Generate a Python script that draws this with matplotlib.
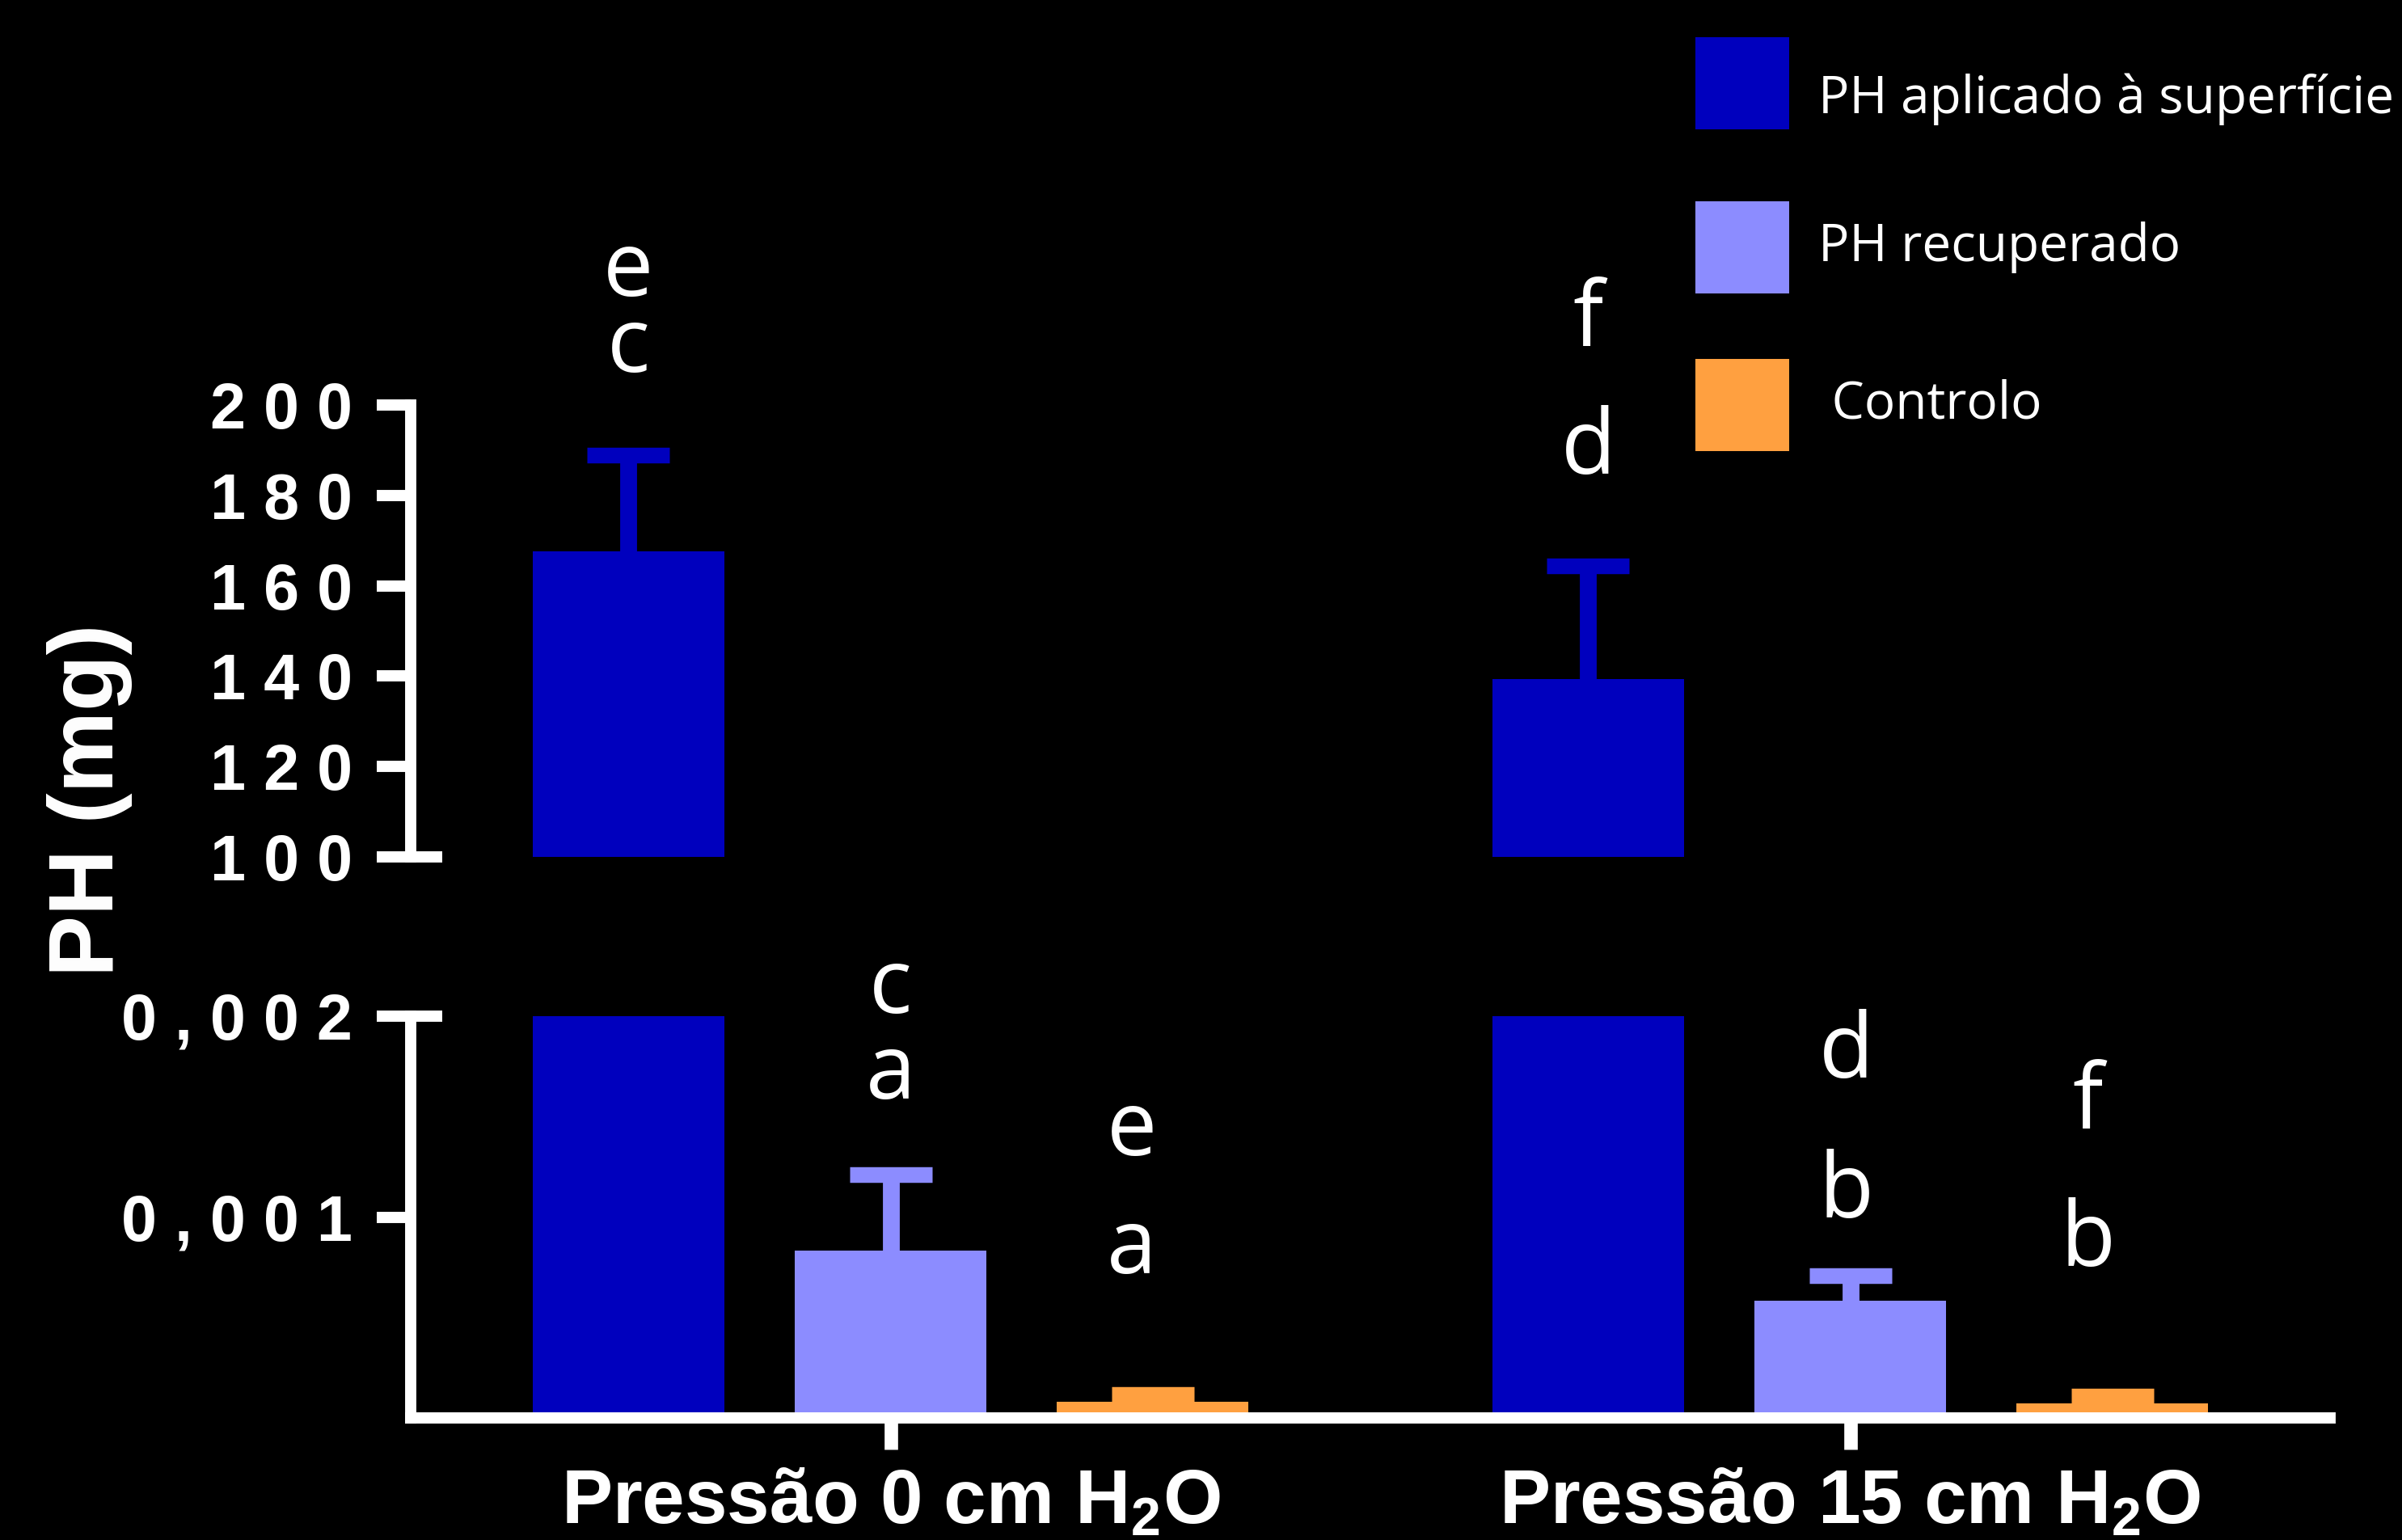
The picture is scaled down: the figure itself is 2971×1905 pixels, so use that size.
#!/usr/bin/env python3
"""PH (mg) bar chart with broken y-axis: applied vs recovered vs control."""

import matplotlib

matplotlib.use("Agg")
import matplotlib.pyplot as plt
import numpy as np
from matplotlib.patches import Rectangle
from matplotlib.ticker import FixedLocator
from matplotlib.transforms import blended_transform_factory, offset_copy

plt.rcParams["mathtext.fontset"] = "custom"
plt.rcParams["mathtext.rm"] = "Liberation Sans:bold"
plt.rcParams["mathtext.it"] = "Liberation Sans:bold"
plt.rcParams["mathtext.bf"] = "Liberation Sans:bold"

# ---- data ----
groups = ["Pressão 0 cm H$_2$O", "Pressão 15 cm H$_2$O"]
series = ["PH aplicado à superfície", "PH recuperado", " Controlo"]

aplicado = [167.6, 139.4]
aplicado_err = [21.3, 25.0]
recuperado = [0.000833, 0.000583]
recuperado_err = [0.000377, 0.000125]
controlo = [0.000080, 0.000073]
controlo_err = [0.000037, 0.000036]

upper_ticks = [100, 120, 140, 160, 180, 200]
lower_ticks = [0.001, 0.002]

# significance letters per bar: (upper letter, lower letter)
letters = [
    [("e", "c"), ("c", "a"), ("e", "a")],
    [("f", "d"), ("d", "b"), ("f", "b")],
]

# ---- style / layout ----
colors = ["#0000BE", "#8C8CFF", "#FFA040"]
W, H = 2971, 1905
# letter baselines in figure pixels from top, and small horizontal nudges (px)
letter_baselines = [
    [(366, 460), (1253, 1359), (1429, 1575)],
    [(428, 586), (1333, 1506), (1396, 1566)],
]
letter_nudge = [[0, 0, -26], [0, -5, -30]]
offsets = [-0.273, 0.0, 0.273]
bar_width = 0.2
LW = 10

fig = plt.figure(figsize=(W / 100, H / 100), dpi=100, facecolor="black")
left, right = 508 / W, 2882 / W
ax_up = fig.add_axes([left, 1 - 1060 / H, right - left, (1060 - 501) / H])
ax_low = fig.add_axes([left, 1 - 1754 / H, right - left, (1754 - 1257) / H])

x = np.arange(len(groups))
values = [aplicado, recuperado, controlo]
errors = [aplicado_err, recuperado_err, controlo_err]

for ax in (ax_up, ax_low):
    ax.set_facecolor("black")
    for i, (vals, errs) in enumerate(zip(values, errors)):
        ax.bar(x + offsets[i], vals, bar_width, color=colors[i], zorder=2)
        eb = ax.errorbar(
            x + offsets[i], vals, yerr=[np.zeros(len(errs)), errs], fmt="none",
            ecolor=colors[i], elinewidth=15, capsize=37, capthick=14, zorder=3,
        )
        eb.lines[1][0].set_visible(False)
    ax.set_xlim(-0.5, 1.5)
    for side in ("top", "right"):
        ax.spines[side].set_visible(False)
    ax.spines["left"].set_color("white")
    ax.spines["left"].set_linewidth(LW)

ax_up.set_ylim(100, 200)
ax_low.set_ylim(0, 0.002)

ax_up.spines["bottom"].set_visible(False)
ax_up.set_xticks([])
ax_low.spines["bottom"].set_color("white")
ax_low.spines["bottom"].set_linewidth(LW)

tick_font = dict(family=["Liberation Sans", "DejaVu Sans"], weight="bold", size=57)

ax_up.set_yticks(upper_ticks)
ax_up.set_yticklabels([" ".join(str(v)) for v in upper_ticks], color="white", **tick_font)
ax_low.set_yticks(lower_ticks)
ax_low.set_yticklabels([" ".join(f"{v:.3f}".replace(".", ",")) for v in lower_ticks], color="white", **tick_font)

# break marks: inward stubs at the cut ends
ax_up.yaxis.remove_overlapping_locs = False
ax_low.yaxis.remove_overlapping_locs = False
ax_up.yaxis.set_minor_locator(FixedLocator([upper_ticks[0]]))
ax_low.yaxis.set_minor_locator(FixedLocator([lower_ticks[-1]]))
for ax in (ax_up, ax_low):
    ax.tick_params(axis="y", which="major", direction="out", length=30, width=LW, pad=22, color="white")
    ax.tick_params(axis="y", which="minor", direction="in", length=28, width=LW, color="white")

ax_low.set_xticks(x)
ax_low.set_xticklabels(groups, color="white", family=["Liberation Sans", "DejaVu Sans"], weight="bold", size=68)
ax_low.tick_params(axis="x", direction="out", length=28, width=12, pad=16, color="white")

# y label
fig.text(140 / W, 1 - 990 / H, "PH (mg)", rotation=90, rotation_mode="anchor",
         ha="center", va="baseline", color="white",
         family=["Liberation Sans", "DejaVu Sans"], weight="bold", size=82)

# significance letters
trans = blended_transform_factory(ax_low.transData, fig.transFigure)
for g in range(len(groups)):
    for i in range(len(series)):
        t = offset_copy(trans, fig=fig, x=letter_nudge[g][i], y=0, units="dots")
        for letter, yb in zip(letters[g][i], letter_baselines[g][i]):
            fig.text(x[g] + offsets[i], 1 - yb / H, letter, transform=t,
                     ha="center", va="baseline", color="white",
                     family=["Open Sans", "DejaVu Sans"], size=80)

# legend (manual boxes to match the wide spacing)
box_tops = [46, 249, 444]
text_baselines = [140, 323, 517]
for name, color, top, tb in zip(series, colors, box_tops, text_baselines):
    fig.add_artist(Rectangle((2097 / W, 1 - (top + 114) / H), 116 / W, 114 / H,
                             transform=fig.transFigure, facecolor=color, edgecolor="none"))
    fig.text(2249 / W, 1 - tb / H, name, ha="left", va="baseline", color="white",
             family=["Open Sans", "DejaVu Sans"], size=46)

fig.savefig("out.png", dpi=100, facecolor="black")
